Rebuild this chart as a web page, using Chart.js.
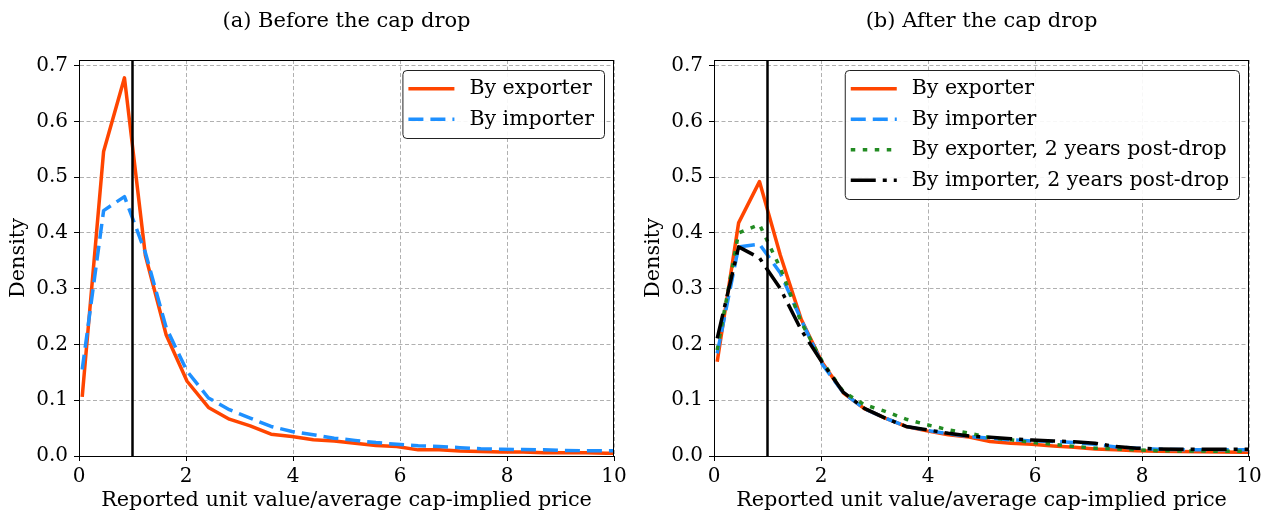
<!DOCTYPE html>
<html><head><meta charset="utf-8">
<script src="https://cdn.jsdelivr.net/npm/chart.js@4/dist/chart.umd.min.js"></script>
<style>
html,body{margin:0;padding:0;background:#fff;overflow:hidden;width:1271px;height:513px}
.wrap{position:absolute;top:0}
canvas{display:block}
</style>
</head><body>
<div class="wrap" style="left:0"><canvas id="c1" width="635" height="513"></canvas></div>
<div class="wrap" style="left:635px"><canvas id="c2" width="635" height="513"></canvas></div>
<script>
// ---- data ----
const xValues = [0.06, 0.46, 0.85, 1.24, 1.63, 2.02, 2.42, 2.81, 3.20, 3.59, 3.98, 4.38, 4.77, 5.16, 5.55, 5.94, 6.34, 6.73, 7.12, 7.51, 7.90, 8.30, 8.69, 9.08, 9.47, 9.86, 10.26];
const xTicks = [0, 2, 4, 6, 8, 10];
const yTicks = [0.0, 0.1, 0.2, 0.3, 0.4, 0.5, 0.6, 0.7];
const capLineX = 1;

const beforeExporter = [0.106, 0.546, 0.678, 0.360, 0.217, 0.134, 0.087, 0.066, 0.054, 0.039, 0.035, 0.029, 0.027, 0.023, 0.019, 0.017, 0.011, 0.011, 0.009, 0.008, 0.007, 0.007, 0.006, 0.006, 0.006, 0.005, 0.005];
const beforeImporter = [0.155, 0.440, 0.465, 0.365, 0.230, 0.152, 0.104, 0.083, 0.068, 0.053, 0.044, 0.038, 0.032, 0.028, 0.024, 0.021, 0.0185, 0.017, 0.015, 0.013, 0.012, 0.0115, 0.011, 0.010, 0.0095, 0.0095, 0.009];

const afterExporter = [0.169, 0.418, 0.492, 0.360, 0.245, 0.168, 0.113, 0.085, 0.068, 0.053, 0.045, 0.038, 0.034, 0.026, 0.023, 0.021, 0.018, 0.0155, 0.0125, 0.011, 0.0096, 0.0084, 0.008, 0.0077, 0.007, 0.0066, 0.0065];
const afterImporter = [0.184, 0.375, 0.380, 0.328, 0.244, 0.165, 0.113, 0.085, 0.068, 0.053, 0.046, 0.040, 0.035, 0.032, 0.029, 0.027, 0.026, 0.024, 0.021, 0.016, 0.014, 0.012, 0.0115, 0.011, 0.011, 0.011, 0.011];
const afterExporter2y = [0.190, 0.400, 0.415, 0.337, 0.240, 0.170, 0.115, 0.092, 0.080, 0.066, 0.056, 0.047, 0.041, 0.033, 0.029, 0.0245, 0.021, 0.017, 0.014, 0.0125, 0.011, 0.0096, 0.009, 0.009, 0.0084, 0.0084, 0.0084];
const afterImporter2y = [0.211, 0.375, 0.355, 0.300, 0.226, 0.168, 0.114, 0.0855, 0.068, 0.053, 0.047, 0.0407, 0.036, 0.0335, 0.031, 0.0287, 0.027, 0.0257, 0.023, 0.017, 0.014, 0.0125, 0.012, 0.012, 0.012, 0.012, 0.012];

const labels = {
  exporter: 'By exporter',
  importer: 'By importer',
  exporter2y: 'By exporter, 2 years post-drop',
  importer2y: 'By importer, 2 years post-drop'
};
const titles = ['(a) Before the cap drop', '(b) After the cap drop'];
const xTitle = 'Reported unit value/average cap-implied price';
const yTitle = 'Density';

// ---- styling ----
const FONT = 'DejaVu Serif';
const STY = {
  exporter:   {color: '#FF4500', dash: []},
  importer:   {color: '#1E90FF', dash: [15, 7]},
  exporter2y: {color: '#228B22', dash: [4.5, 7.5]},
  importer2y: {color: '#000000', dash: [25, 7, 4, 7]}
};
const LW = 3.5;

function series(key, vals, order) {
  return {
    label: labels[key],
    data: xValues.map((x, i) => ({x: x, y: vals[i]})),
    borderColor: STY[key].color,
    borderDash: STY[key].dash,
    borderWidth: LW,
    borderJoinStyle: 'round',
    borderCapStyle: 'butt',
    pointRadius: 0,
    fill: false,
    tension: 0,
    order: order,
    isSeries: true
  };
}
function capLine() {
  return {
    label: 'cap',
    data: [{x: capLineX, y: 0}, {x: capLineX, y: 1}],
    borderColor: '#000', borderWidth: 2.5, pointRadius: 0, fill: false, order: 0, isSeries: false
  };
}

const framePlugin = {
  id: 'frame',
  afterDatasetsDraw(chart) {
    const a = chart.chartArea, ctx = chart.ctx;
    ctx.save();
    ctx.strokeStyle = '#000'; ctx.lineWidth = 1; ctx.setLineDash([]);
    ctx.strokeRect(Math.round(a.left) + 0.5, Math.round(a.top) + 0.5, Math.round(a.right - a.left) - 1, Math.round(a.bottom - a.top));
    ctx.restore();
  }
};

const legendPlugin = {
  id: 'boxLegend',
  afterDraw(chart) {
    const ctx = chart.ctx, a = chart.chartArea;
    const ds = chart.data.datasets.filter(d => d.isSeries);
    const fs = 20.5;
    ctx.save();
    ctx.font = fs + 'px "' + FONT + '"';
    let maxW = 0;
    ds.forEach(d => { maxW = Math.max(maxW, ctx.measureText(d.label).width); });
    const padL = 6, lineLen = 46, gap = 15, padR = 10, rowH = 30.5;
    const w = padL + lineLen + gap + maxW + padR;
    const h = 7 + rowH * ds.length;
    const right = a.right - 10, top = a.top + 10, left = right - w;
    ctx.beginPath();
    ctx.roundRect(left + 0.5, top + 0.5, w, h, 4);
    ctx.fillStyle = 'rgba(255,255,255,0.9)';
    ctx.fill();
    ctx.strokeStyle = '#222'; ctx.lineWidth = 1; ctx.setLineDash([]);
    ctx.stroke();
    ds.forEach((d, i) => {
      const cy = top + 3.5 + rowH / 2 + rowH * i;
      ctx.beginPath();
      ctx.setLineDash(d.borderDash || []);
      ctx.lineCap = 'butt';
      ctx.strokeStyle = d.borderColor; ctx.lineWidth = d.borderWidth;
      ctx.moveTo(left + padL, cy); ctx.lineTo(left + padL + lineLen, cy);
      ctx.stroke();
      ctx.setLineDash([]);
      ctx.fillStyle = '#000';
      ctx.textBaseline = 'middle'; ctx.textAlign = 'left';
      ctx.fillText(d.label, left + padL + lineLen + gap, cy);
    });
    ctx.restore();
  }
};

function makeChart(id, title, datasets) {
  return new Chart(document.getElementById(id), {
    type: 'line',
    data: {datasets: datasets},
    plugins: [framePlugin, legendPlugin],
    options: {
      responsive: false,
      animation: false,
      devicePixelRatio: 1,
      layout: {padding: {left: 0, right: 21, top: 0, bottom: 0}},
      plugins: {
        legend: {display: false},
        tooltip: {enabled: false},
        title: {
          display: true, text: title, color: '#000', fullSize: false,
          font: {family: FONT, size: 21, weight: 'normal'},
          padding: {top: 9, bottom: 25.8}
        }
      },
      scales: {
        x: {
          type: 'linear', min: 0, max: 10,
          afterFit: s => { s.height = 57; },
          afterBuildTicks: s => { s.ticks = xTicks.map(v => ({value: v})); },
          ticks: {color: '#000', padding: 4, font: {family: FONT, size: 20}, callback: v => String(v), maxRotation: 0},
          grid: {color: '#b0b0b0', lineWidth: 1, tickColor: '#000', tickLength: 5, tickBorderDash: [], tickWidth: 1},
          border: {display: true, color: '#000', width: 1, dash: [4, 2.5]},
          title: {display: true, text: xTitle, color: '#000', font: {family: FONT, size: 20.8}, padding: {top: 0, bottom: 0}}
        },
        y: {
          type: 'linear', min: 0, max: 0.71,
          afterFit: s => { s.width = 79; },
          afterBuildTicks: s => { s.ticks = yTicks.map(v => ({value: v})); },
          ticks: {color: '#000', padding: 6, font: {family: FONT, size: 20}, callback: v => Number(v).toFixed(1)},
          grid: {color: '#b0b0b0', lineWidth: 1, tickColor: '#000', tickLength: 5, tickBorderDash: [], tickWidth: 1},
          border: {display: true, color: '#000', width: 1, dash: [4, 2.5]},
          title: {display: true, text: yTitle, color: '#000', font: {family: FONT, size: 20.8}, padding: {top: 6, bottom: 0}}
        }
      }
    }
  });
}

makeChart('c1', titles[0], [
  series('exporter', beforeExporter, 2),
  series('importer', beforeImporter, 1),
  capLine()
]);
makeChart('c2', titles[1], [
  series('exporter', afterExporter, 4),
  series('importer', afterImporter, 3),
  series('exporter2y', afterExporter2y, 2),
  series('importer2y', afterImporter2y, 1),
  capLine()
]);
</script>
</body></html>
